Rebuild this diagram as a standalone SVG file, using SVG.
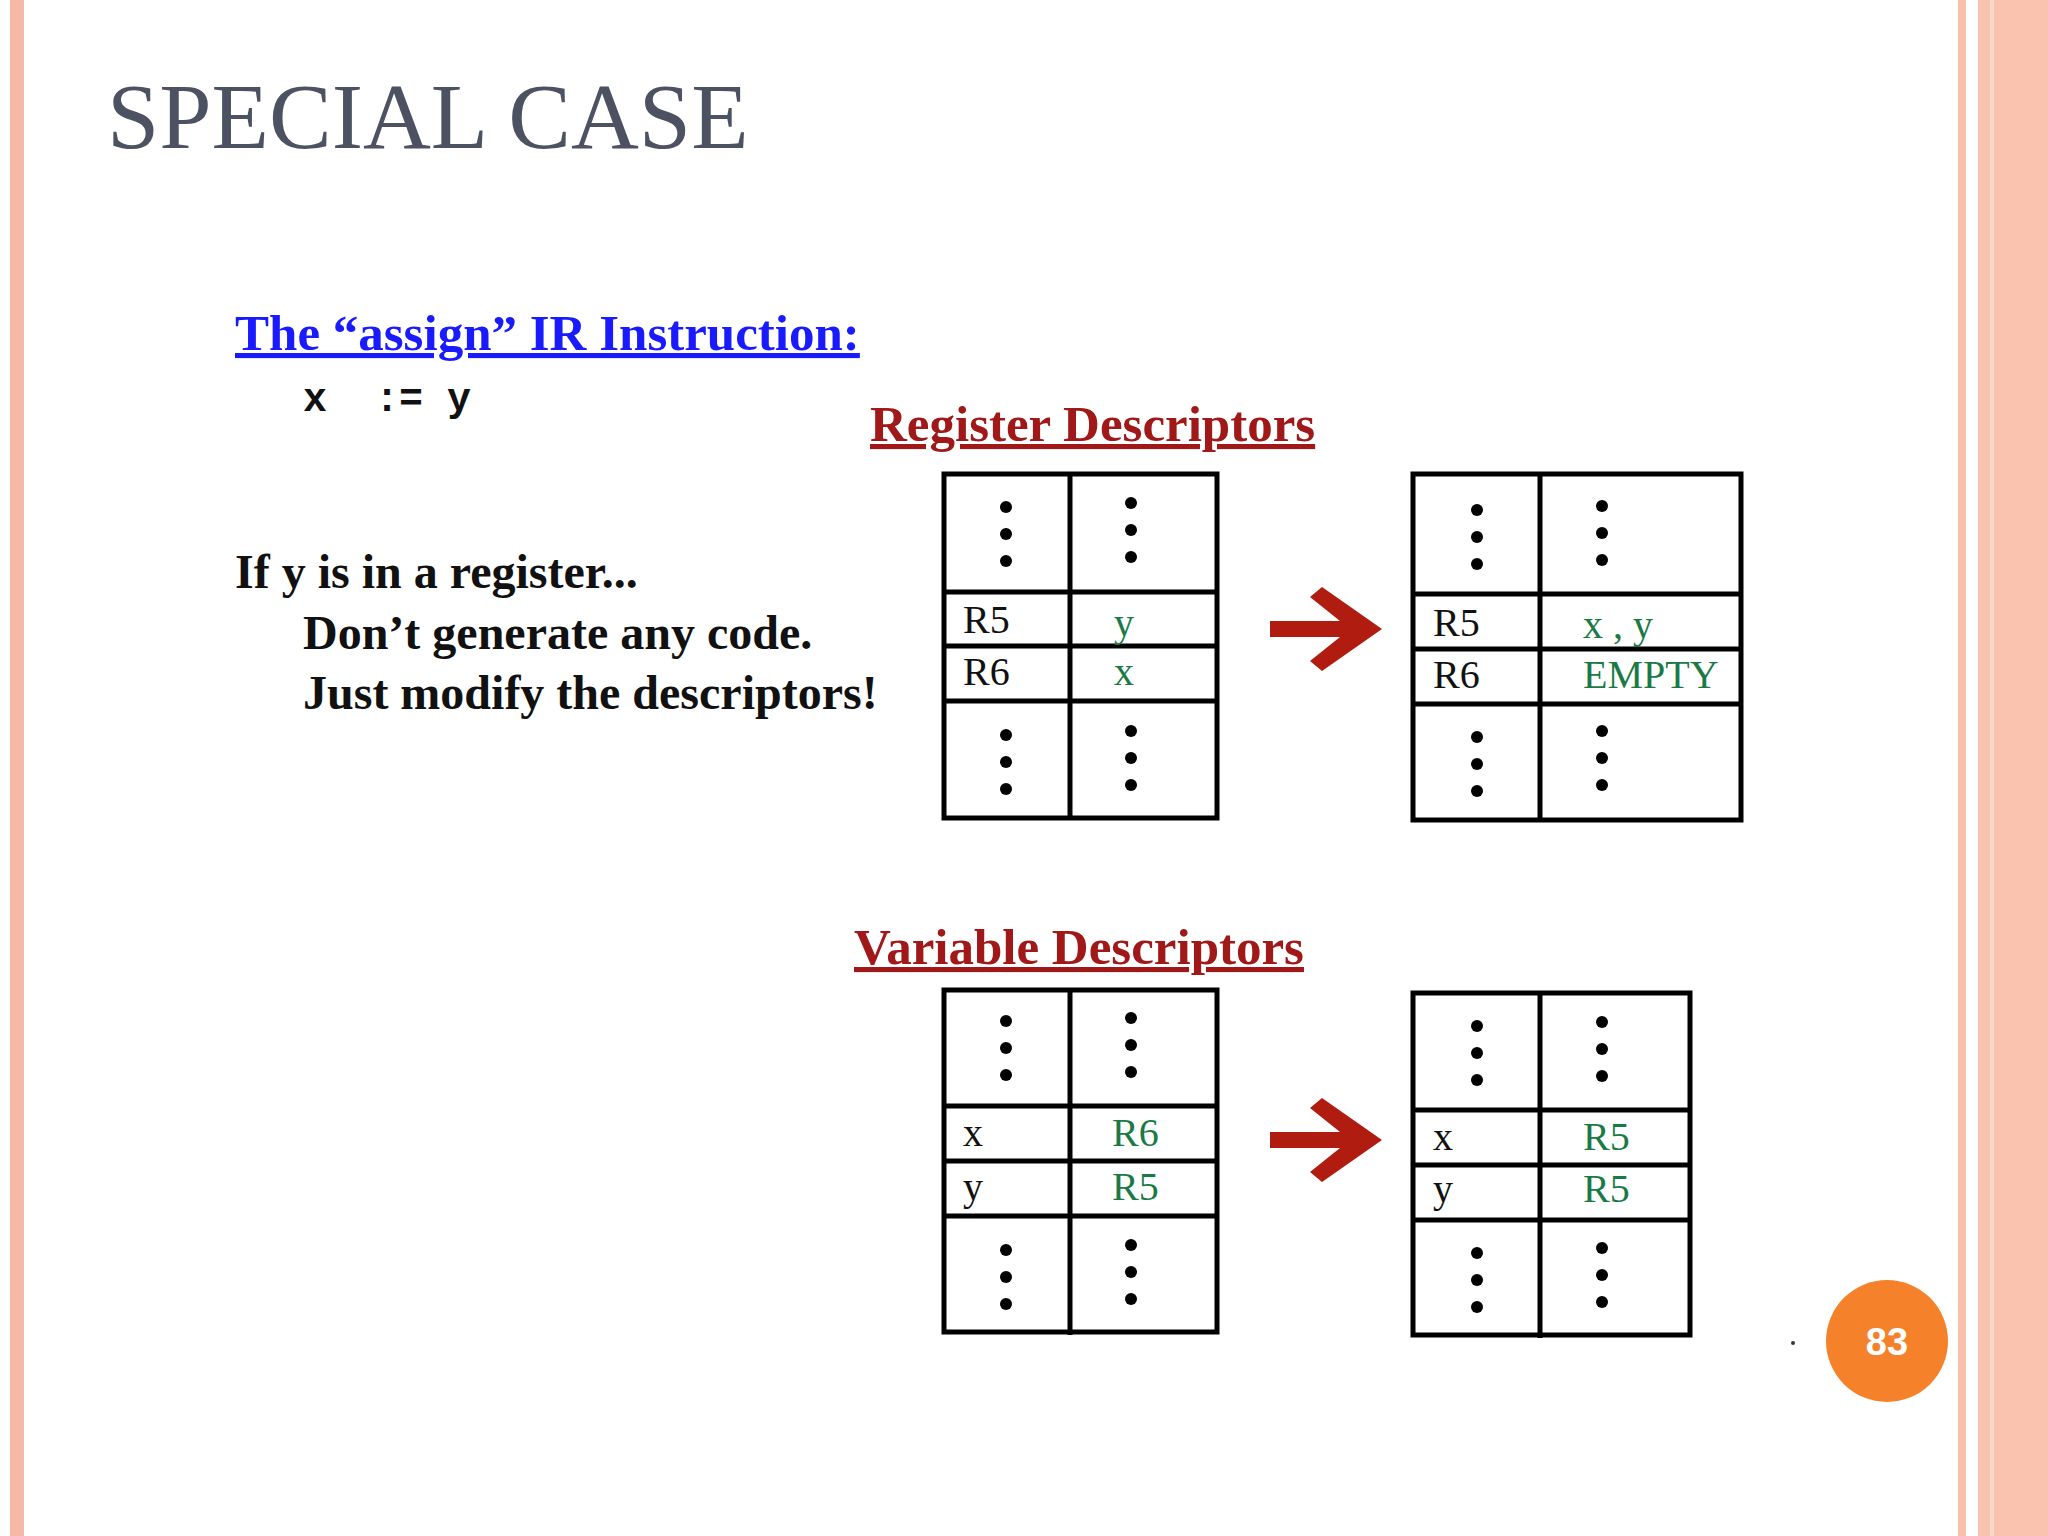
<svg xmlns="http://www.w3.org/2000/svg" width="2048" height="1536" viewBox="0 0 2048 1536">
<style>
.tb{fill:none;stroke:#000;stroke-width:5}
.ln{stroke:#000;stroke-width:5}
.c{font-family:"Liberation Serif",serif;font-size:40px;fill:#111}
.g{font-family:"Liberation Serif",serif;font-size:40px;fill:#1a7a45}
.h{font-family:"Liberation Serif",serif;font-weight:bold;font-size:51px;fill:#a01818;text-decoration:underline}
.b{font-family:"Liberation Serif",serif;font-weight:bold;font-size:48px;fill:#111}
</style>
<defs>
<g id="dots"><circle cx="0" cy="-27" r="6" fill="#000"/><circle cx="0" cy="0" r="6" fill="#000"/><circle cx="0" cy="27" r="6" fill="#000"/></g>
<path id="arr" d="M0,-8 L70,-8 L40,-32 L52,-42 L112,0 L52,42 L40,32 L70,8 L0,8 Z" fill="#b01c10"/>
</defs>
<rect width="2048" height="1536" fill="#fff"/>
<rect x="10" y="0" width="14" height="1536" fill="#f6b9a6"/>
<rect x="1958" y="0" width="8" height="1536" fill="#f8c0ad"/>
<rect x="1978" y="0" width="70" height="1536" fill="#f9c3b0"/>
<rect x="1990" y="0" width="4" height="1536" fill="#fbd8cb"/>
<text x="107" y="148" font-family="Liberation Serif,serif" font-size="94" fill="#4c5262">SPECIAL CASE</text>
<text x="235" y="350" font-family="Liberation Serif,serif" font-weight="bold" font-size="51" fill="#1a1aff" text-decoration="underline">The “assign” IR Instruction:</text>
<text x="303" y="411" font-family="'Liberation Mono','Courier New',monospace" font-weight="bold" font-size="40" fill="#111" xml:space="preserve">x  := y</text>
<text x="235" y="588" class="b">If y is in a register...</text>
<text x="303" y="649" class="b">Don’t generate any code.</text>
<text x="303" y="709" class="b">Just modify the descriptors!</text>
<text x="870" y="441" class="h">Register Descriptors</text>
<text x="854" y="964" class="h">Variable Descriptors</text>
<g id="reg-before">
<rect class="tb" x="944" y="474" width="273" height="344"/>
<line class="ln" x1="1070" y1="474" x2="1070" y2="820"/>
<line class="ln" x1="944" y1="592" x2="1217" y2="592"/>
<line class="ln" x1="944" y1="646" x2="1217" y2="646"/>
<line class="ln" x1="944" y1="701" x2="1217" y2="701"/>
<use href="#dots" x="1006" y="534"/><use href="#dots" x="1131" y="530"/>
<use href="#dots" x="1006" y="762"/><use href="#dots" x="1131" y="758"/>
<text class="c" x="963" y="633">R5</text><text class="g" x="1114" y="636">y</text>
<text class="c" x="963" y="685">R6</text><text class="g" x="1114" y="685">x</text>
</g>
<g id="reg-after">
<rect class="tb" x="1413" y="474" width="328" height="346"/>
<line class="ln" x1="1540" y1="474" x2="1540" y2="820"/>
<line class="ln" x1="1413" y1="594" x2="1741" y2="594"/>
<line class="ln" x1="1413" y1="649" x2="1741" y2="649"/>
<line class="ln" x1="1413" y1="704" x2="1741" y2="704"/>
<use href="#dots" x="1477" y="537"/><use href="#dots" x="1602" y="533"/>
<use href="#dots" x="1477" y="764"/><use href="#dots" x="1602" y="758"/>
<text class="c" x="1433" y="636">R5</text><text class="g" x="1583" y="638">x , y</text>
<text class="c" x="1433" y="688">R6</text><text class="g" x="1583" y="688">EMPTY</text>
</g>
<g id="var-before">
<rect class="tb" x="944" y="990" width="273" height="342"/>
<line class="ln" x1="1070" y1="990" x2="1070" y2="1335"/>
<line class="ln" x1="944" y1="1106" x2="1217" y2="1106"/>
<line class="ln" x1="944" y1="1161" x2="1217" y2="1161"/>
<line class="ln" x1="944" y1="1216" x2="1217" y2="1216"/>
<use href="#dots" x="1006" y="1048"/><use href="#dots" x="1131" y="1045"/>
<use href="#dots" x="1006" y="1277"/><use href="#dots" x="1131" y="1272"/>
<text class="c" x="963" y="1146">x</text><text class="g" x="1112" y="1146">R6</text>
<text class="c" x="963" y="1200">y</text><text class="g" x="1112" y="1200">R5</text>
</g>
<g id="var-after">
<rect class="tb" x="1413" y="993" width="277" height="342"/>
<line class="ln" x1="1540" y1="993" x2="1540" y2="1338"/>
<line class="ln" x1="1413" y1="1110" x2="1690" y2="1110"/>
<line class="ln" x1="1413" y1="1165" x2="1690" y2="1165"/>
<line class="ln" x1="1413" y1="1220" x2="1690" y2="1220"/>
<use href="#dots" x="1477" y="1053"/><use href="#dots" x="1602" y="1049"/>
<use href="#dots" x="1477" y="1280"/><use href="#dots" x="1602" y="1275"/>
<text class="c" x="1433" y="1150">x</text><text class="g" x="1583" y="1150">R5</text>
<text class="c" x="1433" y="1202">y</text><text class="g" x="1583" y="1202">R5</text>
</g>
<g id="connectors">
<use href="#arr" x="1270" y="629"/>
<use href="#arr" x="1270" y="1140"/>
</g>
<circle cx="1793" cy="1343" r="2" fill="#333"/>
<g id="page">
<circle cx="1887" cy="1341" r="61" fill="#f5822a"/>
<text x="1887" y="1355" text-anchor="middle" font-family="Liberation Sans,sans-serif" font-weight="bold" font-size="38" fill="#fff">83</text>
</g>
</svg>
